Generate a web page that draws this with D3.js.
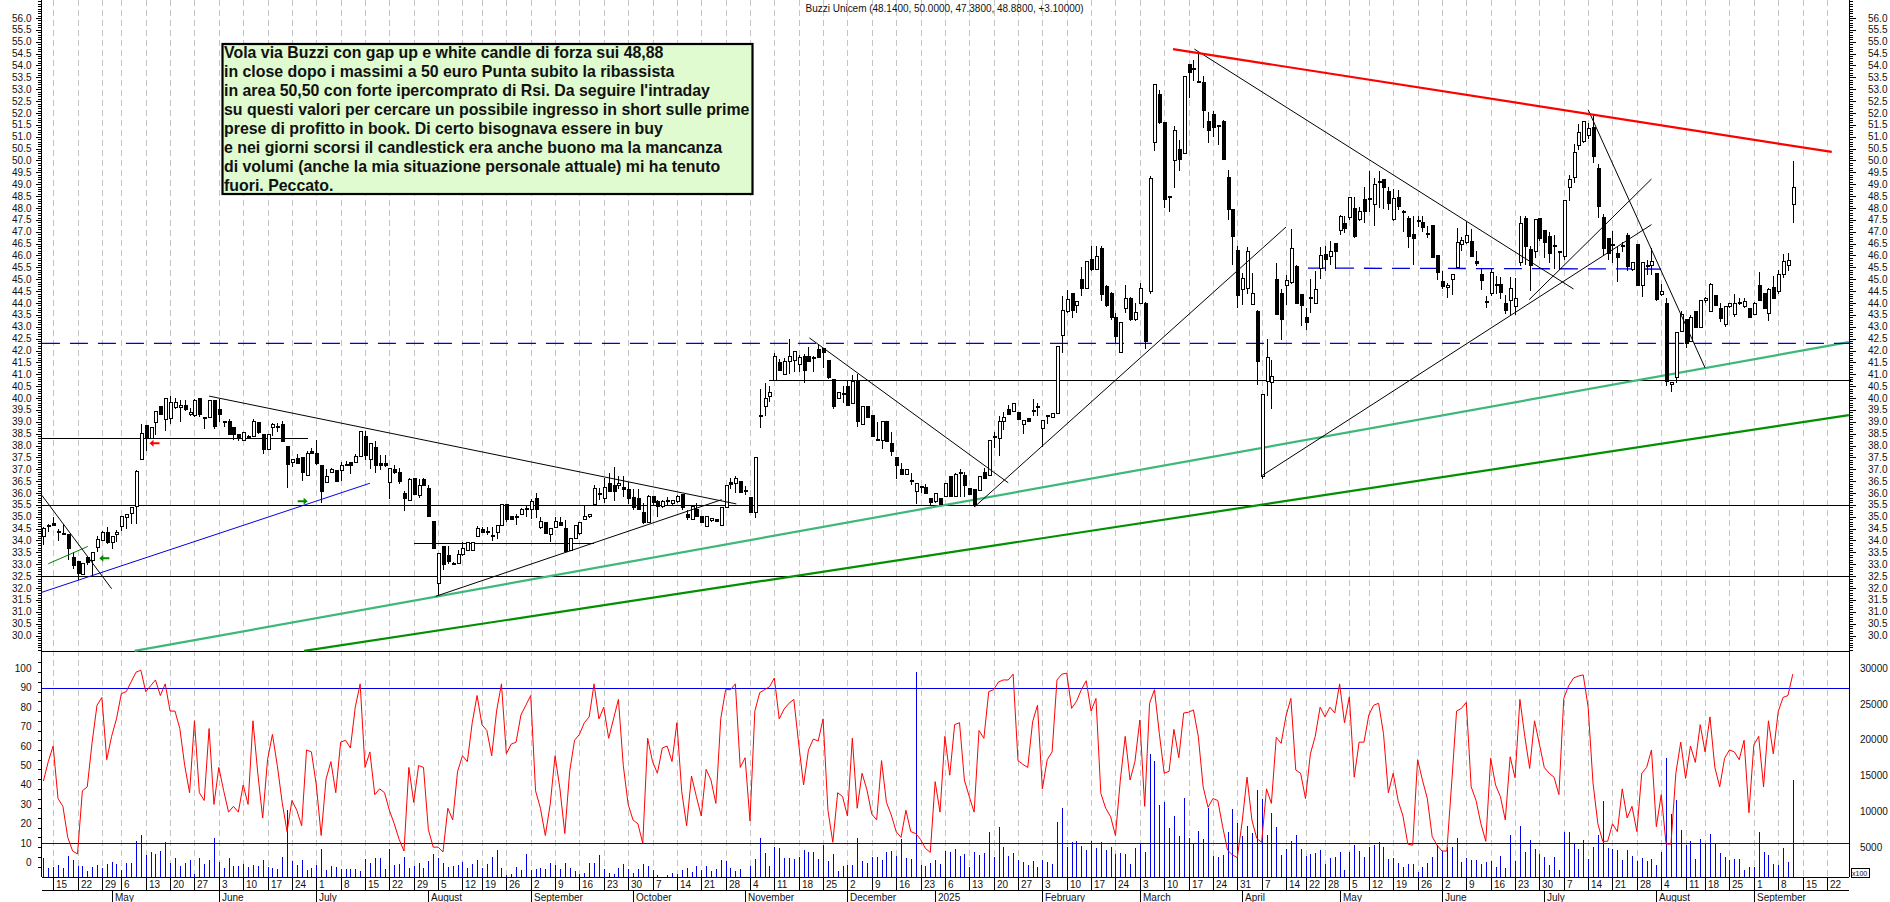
<!DOCTYPE html>
<html><head><meta charset="utf-8">
<style>html,body{margin:0;padding:0;background:#fff;overflow:hidden}
svg{display:block}text{font-family:"Liberation Sans",Arial,sans-serif;fill:#111}</style>
<script src="https://cdn.jsdelivr.net/npm/d3@7/dist/d3.min.js"></script></head><body><svg id="c" width="1890" height="902"></svg>
<script>
const titleText="Buzzi Unicem (48.1400, 50.0000, 47.3800, 48.8800, +3.10000)";
const noteLines=["Vola via Buzzi con gap up e white candle di forza sui 48,88","in close dopo i massimi a 50 euro Punta subito la ribassista","in area 50,50 con forte ipercomprato di Rsi. Da seguire l'intraday","su questi valori per cercare un possibile ingresso in short sulle prime","prese di profitto in book. Di certo bisognava essere in buy","e nei giorni scorsi il candlestick era anche buono ma la mancanza","di volumi (anche la mia situazione personale attuale) mi ha tenuto","fuori. Peccato."];
// open, high, low, close per session
const ohlc=[
[34.15,34.55,33.8,34.5],[34.65,34.7,34.35,34.65],[34.7,35,34.6,34.65],[34.4,34.5,34,34.38],[34.3,34.7,34.25,34.25],[34.25,34.25,33.2,33.65],[33.3,33.5,32.8,32.95],[33.1,33.15,32.35,32.6],[32.55,33.05,32.55,33.05],[33.3,33.35,32.95,33.08],
[33.15,33.5,32.5,33.5],[33.7,34.2,33.5,34.05],[34,34.4,34,34.35],[34.35,34.55,33.85,33.9],[33.9,34.15,33.65,34.15],[34.25,34.45,33.95,34.35],[34.6,35.02,34.4,35],[34.95,35.1,34.5,35.08],[35.15,35.4,34.7,35.4],[35.42,36.95,34.7,36.9],
[37.4,38.9,37.4,38.5],[38.85,38.85,37.75,38.3],[38.3,38.8,38.3,38.75],[38.95,39.45,38.45,39.45],[39.65,39.65,39.3,39.3],[39.1,40,38.6,40],[39.15,40.1,38.9,39.8],[39.6,40,39.55,39.8],[39.6,39.9,39,39.7],[39.7,39.9,39.45,39.5],
[39.3,39.6,39.25,39.4],[39.25,39.95,39.2,39.9],[40,40,39.2,39.3],[39.2,39.2,38.7,39.15],[39.2,39.9,39.2,39.9],[39.9,39.9,38.7,38.8],[39.5,39.95,39,39.3],[39,39.05,38.8,38.98],[39,39.1,38.45,38.45],[38.75,38.75,38.25,38.45],
[38.45,38.45,38.2,38.35],[38.2,38.55,38.2,38.55],[38.4,38.45,38.3,38.37],[38.4,39.1,38.35,39],[38.95,38.95,38.5,38.55],[38.45,38.45,37.65,37.85],[37.85,38.5,37.85,38.45],[38.75,38.95,38.4,38.9],[38.8,38.95,38.55,38.75],[38.9,39.05,38.15,38.15],
[37.95,37.95,36.2,37.2],[37.28,37.42,37.1,37.42],[37.45,37.65,37.25,37.25],[37.5,37.5,36.5,36.85],[36.75,37.75,36.75,37.65],[37.75,37.9,37.65,37.65],[37.65,38.25,37.2,37.25],[37.15,37.15,35.6,36.05],[36.45,37,36.45,36.7],[36.85,37.05,36.85,37],
[36.95,36.98,36.5,36.5],[36.95,37.3,36.5,37.15],[37.2,37.35,37.15,37.18],[37.3,37.3,36.8,37.15],[37.3,37.65,37.25,37.55],[37.55,38.6,37.55,38.6],[38.4,38.6,37.4,37.6],[37.4,38.1,37,38.1],[37.9,38.2,36.85,37.15],[37.25,37.6,36.95,37.15],
[37.25,37.6,37.1,37.15],[36.45,37.05,35.75,37.05],[37,37.2,36.8,36.85],[36.85,37.05,36.4,36.5],[36,36.1,35.25,35.75],[35.7,36.65,35.65,36.55],[36.6,36.6,35.95,35.95],[35.9,36.6,35.8,36.3],[36.55,36.65,36.3,36.3],[36.2,36.35,35,35],
[34.8,34.8,33.65,33.65],[32.2,33.45,31.7,33.45],[33.75,33.75,32.75,33],[33.35,33.75,33,33.1],[33.05,33.1,32.95,33],[33.05,33.6,33,33.4],[33.4,33.95,33.35,33.65],[33.6,33.95,33.55,33.9],[33.6,33.95,33.6,33.9],[34.15,34.6,34.15,34.5],
[34.45,34.55,34.3,34.35],[34.38,34.55,34.25,34.35],[34.2,34.55,34,34.18],[34.35,34.65,34.05,34.65],[34.65,35.5,34.65,35.5],[35.5,35.5,34.8,34.9],[35,35,34.85,34.9],[35,35.1,34.65,34.98],[35.1,35.35,35.08,35.3],[35.35,35.5,35,35.33],
[35.3,35.75,34.9,35.65],[35.75,36,34.95,35.3],[34.55,35,34.5,34.8],[34.75,34.75,34.3,34.3],[34.25,34.5,33.95,34.5],[34.55,35,34.55,34.8],[34.75,35,34.6,34.65],[34.5,34.85,33.5,33.55],[33.6,34.1,33.55,34.1],[34.1,34.65,34.1,34.65],
[34.3,34.75,34.25,34.75],[34.9,35.45,34.85,35],[35,35.1,34.95,35.1],[35.5,36.35,35.5,36.2],[36,36.2,35.7,35.98],[35.75,36.65,35.6,36.25],[36.4,36.85,36.05,36.05],[36.3,37.1,35.65,36.05],[36.3,36.7,36.15,36.4],[36.25,36.7,35.85,36.15],
[36.15,36.45,35.55,35.75],
[35.8,36.15,35.3,35.4],[35.75,36.15,35.3,35.3],[35.2,35.6,34.7,34.75],[34.75,35.9,34.75,35.85],[35.85,35.85,35.5,35.6],[35.65,35.7,35,35.45],[35.45,35.7,35.35,35.65],[35.7,35.85,35.45,35.68],[35.55,35.7,35.5,35.68],
[35.65,35.9,35.6,35.85],[35.93,35.93,35.3,35.4],[35.1,35.3,34.85,34.95],[34.9,35.5,34.9,35.45],[35.3,35.6,35,35],[35,35,34.75,34.75],[34.6,35,34.55,35],[34.85,34.95,34.8,34.92],[34.9,34.92,34.78,34.78],[34.65,35.4,34.65,35.4],
[35.4,36.3,35.4,36.3],[36.43,36.65,36.15,36.35],[36.4,36.7,36,36.6],[36.47,36.5,36,36.03],[36.12,36.3,35.9,36.1],[35.8,35.8,35.2,35.2],[35.2,37.5,34.95,37.5],[39.27,40.4,38.75,39.25],[39.65,40.65,39.25,40],[40.05,40.5,39.85,40.25],
[40.75,41.9,40.75,41.75],[41.5,41.65,41.15,41.15],[41,41.7,41,41.55],[41.55,42.5,41,41.75],[41.6,41.95,41.1,41.95],[41.4,41.8,41.1,41.7],[41.75,41.85,40.65,41.15],[41.75,42.15,41.5,41.55],[41.72,41.75,41.1,41.7],[42.05,42.25,41.7,41.7],
[42.1,42.1,41.25,41.9],[41.6,41.6,40.8,40.85],[40.8,40.8,39.55,39.65],[39.98,40.25,39.95,40.25],[40.2,40.5,39.8,40.15],[40.5,40.75,39.7,39.7],[39.75,40.95,39.75,40.7],[40.7,41,38.8,39],[38.9,39.65,38.9,39.65],[39.65,39.65,39.2,39.2],
[39.25,39.25,38.4,38.4],[38.27,39,38.2,38.25],[38.2,39,37.85,39],[39,39,38.15,38.15],[38.1,38.55,37.55,37.75],[37.5,37.5,36.6,37.15],[37,37.25,36.8,36.8],[36.8,37,36.8,37],[36.52,36.85,36.35,36.5],[36.05,36.4,35.55,36.4],
[36.27,36.3,36,36.25],[36.25,36.4,35.97,35.97],[35.77,35.77,35.5,35.58],[35.65,36,35.6,36],[35.75,35.75,35.5,35.5],[35.85,36.4,35.85,36.4],[36.7,36.7,35.85,35.85],[35.85,36.85,35.85,36.8],[36.87,37,35.85,36.85],[36.75,36.9,35.85,36.3],
[36.2,36.2,35.95,35.95],[36.15,36.15,35.4,35.5],[36.1,36.7,36.1,36.7],[36.85,37.05,36.6,36.6],[36.75,38.2,36.75,38.2],[38.37,38.55,37.9,38.35],[38.3,39.25,37.55,39],[39,39.4,38.65,39.2],[39.5,39.7,39.3,39.3],[39.45,39.75,39.45,39.75],
[39.4,39.4,39.1,39.1],[38.9,39.05,38.5,39.05],[39.15,39.15,39,39],[39.47,39.95,39.25,39.45],[39.65,39.8,39.25,39.6],[38.7,39.05,37.95,39.05],[39.27,39.3,38.9,39.25],[39.2,39.35,39.2,39.35],[39.35,42.15,39.35,42.15],[42.65,44.3,41.9,43.7],
[43.65,44.55,43.6,44.15],[44.4,44.4,43.35,43.7],[43.9,44.1,43.6,44.05],[45,45.5,44.3,44.6],[44.6,45.75,44.6,45.75],[45.85,46.4,45.35,45.4],[45.4,46.4,45.4,45.95],[46.3,46.4,44.1,44.35],[44.7,44.75,43.85,43.9],[44.4,44.45,43.3,43.37],
[43.37,43.6,42.3,42.6],[41.9,43.2,41.9,43.2],[43.75,44.75,43.6,44.2],[44.2,44.25,43.25,43.3],[43.3,44,43.25,43.6],[44,44.85,43.95,44.6],[44,44.05,42.05,42.4],[44.5,49.35,44.4,49.25],[50.74,53.22,50.39,53.22],[52.8,52.95,51.55,51.58],
[51.62,51.62,48,48.35],[48.5,48.5,47.85,48.47],[50,51.45,48.85,51.25],[50.45,50.85,49.55,50.05],[50.3,53.55,50.3,53.55],[54.05,54.05,52.65,53.7],[53.87,54.25,53.35,53.85],[53.32,54.5,53.3,53.3],[53.3,53.55,51.35,52.1],[51.65,52.05,50.75,51.25],
[51.95,52.1,51,51.4],[51.47,51.5,50.65,51.45],[51.65,51.7,50.05,50.05],[49.3,49.6,47.5,47.95],[47.95,47.95,45.6,46.8],[46.2,46.4,43.8,44.3],[44.55,45.25,43.9,45.05],[44.6,46.35,44.4,46.15],[43.95,45.25,43.9,44.4],[43.65,43.7,40.55,41.55],
[36.7,40.15,36.6,40.15],[40.7,42.5,40.1,41.7],[40.65,41.6,39.55,40.9],[45,45.7,43.5,43.5],[44.4,44.6,42.45,43.3],[44.75,45.2,43.9,44.95],[44.85,47.1,44.8,46.3],[45.55,45.6,44,44],[44.35,44.4,43.05,43.9],[43.4,43.8,42.85,43.2],
[44.2,45,43.6,44.25],[44,45.35,44,44.55],[45.45,46.35,45,46],[46.05,46.4,45.35,45.85],[45.95,46.6,45.6,46.15],[46.5,46.5,45.45,46.15],[47.05,47.7,46.85,47.65],[47.35,47.65,46.95,47.15],[47.6,48.45,47.5,48.45],[48,48.45,46.75,46.8],
[47.5,48.05,47.45,47.85],[48.35,48.9,47.35,47.85],[48.42,49.55,47.85,48.4],[48.15,49.25,47.25,49],[49.12,49.55,48,49.1],[49.2,49.2,47.95,48.85],[48.7,48.9,47.9,48.2],[47.5,48.8,47.45,48.4],[48.45,48.75,47.9,48.05],[47.87,47.9,47,47.85],
[47.55,47.65,46.3,46.8],[46.9,47.65,45.6,46.7],[47.47,47.65,47.2,47.45],[47.4,47.65,47,47.2],[46.92,47.25,46.75,46.9],[47.25,47.25,45.9,45.9],[46,46,44.95,45.3],[44.9,45.35,44.6,44.7],[44.65,44.85,44.2,44.75],[45,45.2,44.35,45.2],
[45.5,47.15,45.5,46.55],[46.45,46.8,46.2,46.65],[46.55,47.4,46.5,46.85],[46.6,47.1,45.95,45.95],[45.75,46.2,45.55,45.65],[45.2,45.45,44.55,44.95],[44.05,44.3,43.8,44.05],[44.4,45.45,44.3,45.3],[44.77,45.15,44.4,44.75],[44.8,45.1,44.15,44.45],
[44,44.35,43.55,43.7],[44.1,45.1,43.5,44.6],[43.85,45.05,43.5,44.2],[45.7,47.65,45.55,47.35],[47.55,47.65,45.6,46.4],[46.25,46.4,44.5,45.6],[46.15,47.5,45.9,47.5],[47.55,47.55,46.6,46.7],[47.05,47.05,45.9,46.55],[46.8,47,45.7,46.1],
[46.42,46.85,45.45,46.4],[46.17,46.2,45.4,46.15],[45.95,48.3,45.8,48.3],[48.85,49.4,48.3,49.2],[49.3,50.7,49.05,50.35],[50.65,51.55,50.45,51.2],[50.8,51.65,50.75,51.65],[51.05,51.6,50.9,51.35],[51.4,51.95,49.9,50.15],[49.65,49.85,47.6,48.05],
[47.6,47.75,46,46.3],[46.7,46.7,45.8,46.1],[46.47,47.05,45.7,46.45],[46.1,46.4,44.9,45.9],[46.42,46.55,46.15,46.4],[46.85,46.95,45.35,45.55],[45.4,45.7,45.35,45.7],[46.45,46.45,44.75,44.75],[44.75,45.7,44.25,45.7],[45.57,45.8,45.2,45.55],
[45.6,46.3,45.2,45.75],[45.25,45.25,44.1,44.15],[44.35,44.8,44.3,44.5],[44,44.2,40.5,40.7],[40.55,40.65,40.25,40.65],[40.85,42.75,40.65,42.75],[42.8,43.65,42.8,43.5],[43.3,43.3,42.1,42.3],[42.4,43.5,42.4,43.37],[43.65,43.65,42.95,42.95],
[42.95,44.1,42.95,44.1],[44.1,44.25,44,44.2],[43.65,44.85,43.65,44.8],[44.3,44.35,43.9,43.9],[43.75,44,43.2,43.35],[43.1,43.85,43,43.85],[43.85,44,43.8,44],[43.5,44.4,43.4,44],[44.02,44.2,43.9,44],[43.85,44.2,43.8,44.05],
[43.75,43.8,43.4,43.4],[43.5,44.05,43.5,44],[44.75,45.3,44.1,44.1],[44.4,44.4,43.75,43.75],[43.55,44.65,43.25,44.55],[44.65,45.15,44.2,44.2],[44.5,45.4,44.4,45.2],[45.2,46.05,45.05,45.75],[45.6,46.1,45.35,45.8],[48.14,50,47.38,48.88]];
const rsiValues=[42,52,60,33,29,13,6,4.5,37,39,62,81,85,53,65,74,87,88,93,98,99,88,91,94,86,92,78,78,69,50,36,73,36,32,69,30,49,37,26,29,26,40,30,73,46,23,53,66,50,31,16,32,27,19,58,57,40,14,43,52,36,62,63,59,80,92,49,57,35,38,36,27,20,12,6,49,31,50,49,17,8,8,5.5,28,22,47,55,52,72,86,71,68,55,78,92,56,61,62,76,81,86,37,28,14,30,55,38,15,47,63,66,72,75,92,74,80,64,74,84,50,30,
22,20,10,64,52,46,59,60,52,72,36.5,19,44.6,34,24,48,42.5,30.5,74,89,89,92,49,54,21.5,78,87.5,89,90.5,95,74,79,82,84,61,40,58,63.6,62.6,74,27,10.5,36,34,24,64,28,46,37.5,25,22,52.5,31,24.5,16,13,27,16,15,12,7.4,5.3,41.7,26,65,45,71,72,42.5,34,26,68,64,88,89,93,94,94,97,52.5,50.6,49,72.5,81,38,53,57,94,97,97.5,79.4,83,89,93.6,78,84.5,35.7,28,23.7,14,42.5,65,42.5,52,73.4,29,82,89,66.5,46,47,68.6,54,77,77.4,78.6,65,39,28.5,33,32,18.5,6.5,4,2.6,21,44,22,12.5,
10.5,38,30.5,64.5,61.4,75.5,84.5,47.7,46,33,56,65,80,75,80,77,92,72,85.4,44,62,62,76,81,82,66.5,36,46,32,24,9.6,9,53,42.5,33,13.4,9,6,6,41,78,79.4,82.5,39,32,20,11,53.7,40,34,22,54.5,43.7,84,65,48.5,73,61,49,46,44,35,84.5,91,95,96,96.6,80,41,20,11,11,20,16,38,23,29,16,46,49,58,18.5,35,9.6,9.6,46,62,43.4,60,51.6,71,57,75,49,39,53.7,58,57,53,63,25.7,60.5,65,39,73,56,77.7,85,86,97];
const volumes=[3465,2070,2210,2490,2070,3790,3185,2395,2395,1695,2210,2490,2070,2675,2955,2675,1835,2765,2765,5885,6725,3930,4350,4070,4490,5700,2860,3510,2395,2765,3230,1275,3510,2675,3230,6300,2955,2115,3510,2395,2395,2675,2255,2535,2395,3230,2255,2070,1930,3650,10215,3090,2490,3230,1835,2115,2535,4770,1835,2395,2255,2025,1975,1975,1975,1695,3370,2815,3510,3510,1975,4770,2535,2675,3650,2115,2395,2765,2115,3090,4070,3510,2765,2255,2395,2535,2905,2115,2675,3230,2115,2675,3605,4630,2115,1135,1275,2255,1835,4070,1835,1975,2115,1975,2815,2535,1975,2815,2115,1695,1275,1415,2765,2815,3930,1975,1415,1275,2115,2675,1975,
1370,1975,2675,2395,1835,1135,900,1135,1370,1275,1835,2115,1510,2395,1835,2395,1695,1975,3230,3090,2115,1695,1975,900,2395,3370,6300,4210,2395,5050,4910,3510,3510,3370,3650,4630,4350,4350,3370,5325,3090,4070,1695,2395,2535,2535,6300,3090,2815,3650,3650,3230,4350,4490,3790,6165,3510,3370,29500,2535,2395,2815,3230,2675,4490,4350,4770,3790,4070,2255,4350,3930,4210,7140,3650,7840,5050,3790,4210,3230,2955,2535,3090,2255,3230,2955,2675,8540,10500,5050,5745,5885,5190,4630,5885,4910,5745,4630,5050,4070,4210,4070,2675,4910,5465,4350,18035,17060,10915,11330,7700,9375,6585,11890,6300,5465,7280,6165,10500,3790,3650,3930,7140,10355,8400,6585,7980,7000,13000,
11750,6725,9800,7840,3930,4770,5885,6725,4770,3790,4070,4210,4630,2675,3510,3650,4350,1835,4350,5325,4490,3650,5050,5325,5700,5050,3370,3510,2765,2255,2675,2675,1510,2255,2815,3650,5325,4490,5050,5050,6300,2955,3510,3230,3230,2675,2955,3090,2300,3790,2115,6725,3090,7980,4350,6020,4770,4070,3650,2535,3650,1835,7140,7140,5465,4770,6020,3370,5050,6725,11470,4910,4770,4630,3230,4630,3790,3090,3510,3090,3370,2535,4350,17475,9655,11610,7420,5375,5885,3370,6165,5465,6860,5465,4210,3650,3230,3370,3370,1835,2255,2255,7140,4350,3930,2675,2535,4910,2955,14400];
const weekTickBars=[2,7,12,16,21,26,31,36,41,46,51,56,61,66,71,76,81,86,90,95,100,105,110,115,120,125,130,135,140,145,150,155,160,165,170,175,180,185,190,195,200,205,210,215,220,225,230,235,240,245,250,255,259,263,268,272,277,282,287,292,297,302,307,312,317,322,327,332,337,341,346,351,356,361,366];
const weekTickLabels=["15","22","29","6","13","20","27","3","10","17","24","1","8","15","22","29","5","12","19","26","2","9","16","23","30","7","14","21","28","4","11","18","25","2","9","16","23","6","13","20","27","3","10","17","24","3","10","17","24","31","7","14","22","28","5","12","19","26","2","9","16","23","30","7","14","21","28","4","11","18","25","1","8","15","22"];
const monthBars=[14,36,56,79,100,121,144,165,183,205,225,246,266,287,308,331,351];
const monthLabels=["May","June","July","August","September","October","November","December","2025","February","March","April","May","June","July","August","September"];
const blackLevels=[[-0.3,38.33,54.4],[-0.3,35.5,371],[-0.3,32.52,371],[149,40.76,371],[76,33.91,113]];
const blueDashLevels=[[-0.3,42.3,42.3,371],[259.5,45.47,45.43,332]];
const blackTrends=[[-0.3,35.9,14,31.97],[34,40.08,142.2,35.54],[80.5,31.65,139.2,35.72],[157.2,42.53,198,36.43],[191.1,35.42,255,47.2],[236.2,54.69,314,44.59],[249.9,36.71,330,47.3],[304.9,44.14,330,49.22],[317,52.14,341,41.27]];
const blueTrend=[-0.3,31.82,67,36.41];
const greenThin=[1,33.02,9.1,33.75];
const redTrend=[231.8,54.69,367,50.36];
const lightGreenTrend=[18.7,29.35,370.5,42.35];
const darkGreenTrend=[53.5,29.35,370.5,39.28];
const arrows=[[22.8,38.1,"#f00",1],[12.5,33.25,"#080",1],[53.2,35.65,"#080",-1]];
const priceTicks=d3.range(30,56.01,0.5), priceMinor=d3.range(29.4,56.75,0.1);
const rsiTicks=d3.range(0,101,10), rsiMinor=d3.range(-2,105,5);
const volTicks=[5000,10000,15000,20000,25000,30000];

const svg=d3.select("#c");
const L=42,R=1849;
const x=d3.scaleLinear().domain([0,359]).range([43.4,1792.8]);
const yP=d3.scaleLinear().domain([30,56]).range([635.5,18]);
const yR=d3.scaleLinear().domain([0,100]).range([862.7,668.3]);
const yV=d3.scaleLinear().domain([810,30000]).range([877.3,668.3]);
const px=v=>Math.round(v)+0.5;
const line=(g,a,b,c,d,col,w)=>g.append("line").attr("x1",a).attr("y1",b).attr("x2",c).attr("y2",d).attr("stroke",col).attr("stroke-width",w);

// dashed grid
const grid=svg.append("g").attr("shape-rendering","crispEdges");
weekTickBars.forEach(b=>line(grid,px(x(b)),0,px(x(b)),877,"#c4c4c4",1).attr("stroke-dasharray","6 4"));

// volume & RSI lower pane
const vol=svg.append("g").attr("shape-rendering","crispEdges");
vol.selectAll("line").data(volumes).join("line").attr("x1",(d,i)=>px(x(i))).attr("x2",(d,i)=>px(x(i)))
 .attr("y1",yV(810)).attr("y2",d=>yV(d)).attr("stroke","#0000f0").attr("stroke-width",1);
const hl=svg.append("g").attr("shape-rendering","crispEdges");
[90,10].forEach(v=>line(hl,L,px(yR(v)),R,px(yR(v)),"#0000e6",1.4));
blackLevels.forEach(d=>line(hl,x(d[0]),px(yP(d[1])),x(d[2]),px(yP(d[1])),"#000",1.2));
line(hl,L,651.5,R,651.5,"#000",1.4);

svg.append("path").datum(rsiValues).attr("fill","none").attr("stroke","#f00").attr("stroke-width",1)
 .attr("d",d3.line().x((d,i)=>x(i)).y(d=>yR(d)));

// sloped lines under candles
const tl=(t,col,w)=>svg.append("line").attr("x1",x(t[0])).attr("y1",yP(t[1])).attr("x2",x(t[2])).attr("y2",yP(t[3])).attr("stroke",col).attr("stroke-width",w);
tl(lightGreenTrend,"#3cb879",2.2);
tl(darkGreenTrend,"#009000",2.2);
blueDashLevels.forEach(d=>tl([d[0],d[1],d[3],d[2]],"#0000d8",1.3).attr("stroke-dasharray","18 10"));

// candles
const cg=svg.append("g").attr("shape-rendering","crispEdges");
const bars=cg.selectAll("g").data(ohlc).join("g");
bars.append("line").attr("x1",(d,i)=>px(x(i))).attr("x2",(d,i)=>px(x(i))).attr("y1",d=>yP(d[1])).attr("y2",d=>yP(d[2])).attr("stroke","#000").attr("stroke-width",1);
bars.append("rect").attr("x",(d,i)=>px(x(i))-1.5).attr("width",3)
 .attr("y",d=>yP(Math.max(d[0],d[3]))).attr("height",d=>Math.max(1,Math.abs(yP(d[0])-yP(d[3]))))
 .attr("fill",d=>d[3]>=d[0]?"#fff":"#000").attr("stroke","#000").attr("stroke-width",1);

// trend lines above candles
blackTrends.forEach(t=>tl(t,"#000",1));
tl(blueTrend,"#0000f0",1);
tl(greenThin,"#008000",1);
tl(redTrend,"#f00",2.2);

// small arrows
arrows.forEach(a=>{const cx=x(a[0]),cy=yP(a[1]),s=a[3];
 svg.append("path").attr("fill",a[2]).attr("d",`M${cx+s*5},${cy-1} L${cx-s*1},${cy-1} L${cx-s*1},${cy-3.5} L${cx-s*5},${cy} L${cx-s*1},${cy+3.5} L${cx-s*1},${cy+1} L${cx+s*5},${cy+1} Z`);});

// axes
const ag=svg.append("g").attr("shape-rendering","crispEdges");
line(ag,41.5,0,41.5,877,"#000",1.2);
line(ag,1849.5,0,1849.5,877,"#000",1.2);
line(ag,L,877.5,R,877.5,"#000",1.2);
line(ag,L,890.5,R,890.5,"#000",1.2);
priceMinor.forEach(v=>{const y=px(yP(v));line(ag,38,y,41,y,"#000",1);line(ag,1850,y,1853,y,"#000",1);});
priceTicks.forEach(v=>{const y=px(yP(v));line(ag,35.5,y,41,y,"#000",1);line(ag,1850,y,1856,y,"#000",1);});
rsiMinor.forEach(v=>{const y=px(yR(v));if(y<874&&y>654)line(ag,38,y,41,y,"#000",1);});
const lbl=(t,xx,yy,anc,fs)=>svg.append("text").attr("x",xx).attr("y",yy).attr("text-anchor",anc||"start").attr("font-size",fs||10).text(t);
priceTicks.forEach(v=>{lbl(v.toFixed(1),31.5,yP(v)+3.5,"end");lbl(v.toFixed(1),1868,yP(v)+3.5,"start");});
rsiTicks.forEach(v=>lbl(String(v),31.5,yR(v)+3.5,"end"));
volTicks.forEach(v=>lbl(String(v),1860,yV(v)+3.5,"start"));
ag.append("rect").attr("x",1851).attr("y",868).attr("width",18).attr("height",9).attr("fill","#fff").attr("stroke","#000");
lbl("x100",1852,875.5,"start",7);
weekTickBars.forEach((b,i)=>{const xx=px(x(b));line(ag,xx,877,xx,890,"#000",1);if(xx<1849)lbl(weekTickLabels[i],xx+2.5,888,"start",10);});
monthBars.forEach((b,i)=>{const xx=px(x(b));line(ag,xx,890,xx,902,"#000",1);lbl(monthLabels[i],xx+2.5,900.5,"start",10);});

// title
lbl(titleText,805.6,12,"start",10).attr("textLength",278);

// note box
svg.append("rect").attr("x",222.5).attr("y",44).attr("width",530).attr("height",150).attr("fill","#e0fbd0").attr("stroke","#000").attr("stroke-width",2.2);
noteLines.forEach((t,i)=>svg.append("text").attr("x",224).attr("y",58.3+i*18.95).attr("font-size",15.9).attr("font-weight","bold").attr("fill","#000").text(t));
</script></body></html>
